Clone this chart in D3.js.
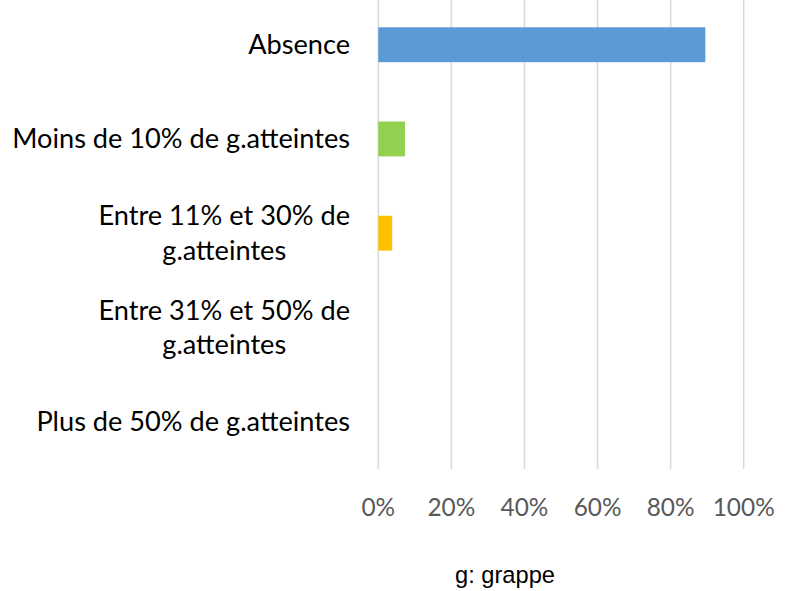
<!DOCTYPE html>
<html><head><meta charset="utf-8">
<script src="https://cdn.jsdelivr.net/npm/d3@7"></script>
<style>html,body{margin:0;padding:0;background:#fff;}svg{display:block;}</style>
</head><body>
<svg id="c" width="792" height="591"></svg>
<script>
const categories = [
  ["Absence"],
  ["Moins de 10% de g.atteintes"],
  ["Entre 11% et 30% de", "g.atteintes"],
  ["Entre 31% et 50% de", "g.atteintes"],
  ["Plus de 50% de g.atteintes"]
];
const values = [0.895, 0.073, 0.038, 0, 0];
const colors = ["#5B9BD5", "#92D050", "#FFC000", "#A5A5A5", "#4472C4"];
const tickValues = [0, 0.2, 0.4, 0.6, 0.8, 1.0];
const note = "g: grappe";

const svg = d3.select("#c");
const x = d3.scaleLinear().domain([0, 1]).range([378.3, 743.7]);
const y = d3.scaleBand().domain(d3.range(categories.length)).range([-2.4, 468.8]).paddingInner(0.63).paddingOuter(0.315);

// gridlines
svg.append("g").selectAll("line").data(tickValues).join("line")
  .attr("x1", d => x(d)).attr("x2", d => x(d))
  .attr("y1", 0).attr("y2", 469)
  .attr("stroke", "#D9D9D9").attr("stroke-width", 1.5);

// bars
svg.append("g").selectAll("rect").data(values).join("rect")
  .attr("x", x(0)).attr("y", (d, i) => y(i))
  .attr("width", d => x(d) - x(0)).attr("height", y.bandwidth())
  .attr("fill", (d, i) => colors[i]);

// category labels
const font = "Lato, 'Open Sans', sans-serif";
const lineH = 34.5;
const rightEdge = 350;
const cg = svg.append("g").attr("font-family", font).attr("fill", "#000").attr("text-anchor", "middle");
const labels = cg.selectAll("text").data(categories).join("text")
  .attr("font-size", 26);
labels.each(function(lines, i) {
  const cy = y(i) + y.bandwidth() / 2;
  const n = lines.length;
  d3.select(this).selectAll("tspan").data(lines).join("tspan")
    .attr("y", (l, j) => cy + (j - (n - 1) / 2) * lineH)
    .attr("dy", "0.35em")
    .text(l => l);
});
// fit font size to reference width of longest single line
const w = labels.filter((d, i) => i === 1).node().getComputedTextLength();
const fs = 26 * 338 / w;
labels.attr("font-size", fs);
// right-align each block, center lines within block
labels.each(function() {
  const ts = d3.select(this).selectAll("tspan");
  let maxW = 0;
  ts.each(function() { maxW = Math.max(maxW, this.getComputedTextLength()); });
  ts.attr("x", rightEdge - maxW / 2);
});

// x axis tick labels
const tg = svg.append("g").attr("font-family", font).attr("fill", "#595959").attr("text-anchor", "middle");
const ticks = tg.selectAll("text").data(tickValues).join("text")
  .attr("x", d => x(d)).attr("y", 516)
  .attr("font-size", 26)
  .text(d => d3.format(".0%")(d));
const tw = ticks.filter(d => d === 1).node().getComputedTextLength();
ticks.attr("font-size", 26 * 62 / tw);

// note
const nt = svg.append("text").attr("x", 505).attr("y", 583)
  .attr("font-family", "'Liberation Sans', Arial, sans-serif").attr("font-size", 22)
  .attr("text-anchor", "middle").attr("fill", "#000").text(note);
const nw = nt.node().getComputedTextLength();
nt.attr("font-size", 22 * 100 / nw);
</script>
</body></html>
